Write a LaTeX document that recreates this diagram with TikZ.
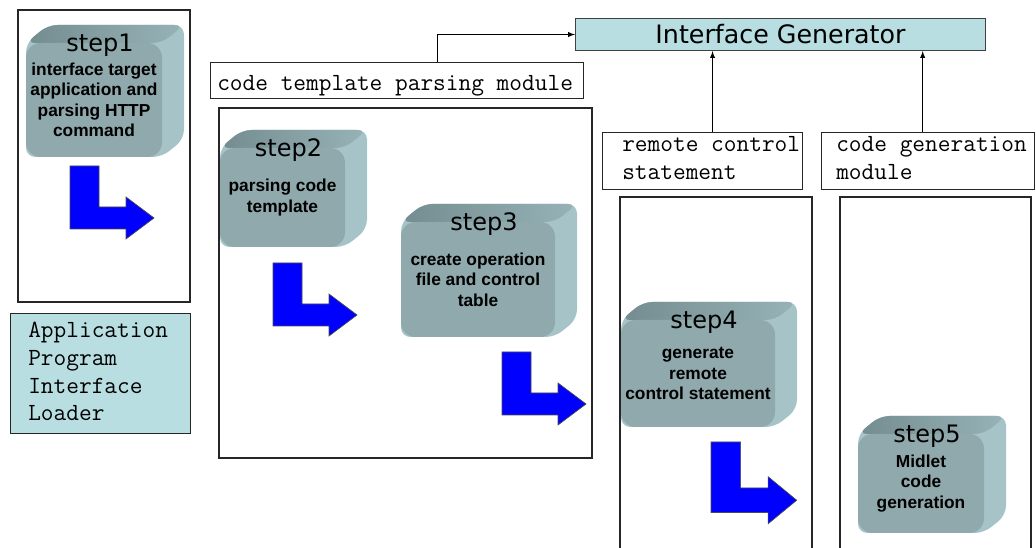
\documentclass[tikz,border=0pt]{standalone}
\usepackage{fontspec}
\newfontfamily\arialfont{Liberation Sans}
\newfontfamily\verdfont{DejaVu Sans}

\definecolor{cubefront}{HTML}{8FA9AD}
\definecolor{cubetop}{HTML}{748C90}
\definecolor{cubeside}{HTML}{A6C4C8}
\definecolor{panelcyan}{HTML}{B8DEE1}

\tikzset{
  frame/.style={draw=black!85, line width=0.8pt},
  modbox/.style={draw=black!85, line width=0.8pt, inner sep=0pt},
  modtext/.style={font=\ttfamily\fontsize{18.5}{21}\selectfont, inner sep=0pt, align=left},
  genbox/.style={draw=black!75, line width=0.8pt, fill=panelcyan,
    font=\verdfont\fontsize{19}{22}\selectfont, inner sep=0pt},
  steptitle/.style={font=\verdfont\fontsize{18}{20}\selectfont, inner sep=0pt},
  stepbody/.style={font=\arialfont\bfseries\fontsize{13}{15.4}\selectfont,
    align=center, inner sep=0pt},
  bluearrow/.style={fill=blue, draw=black!70, line width=0.5pt},
  flow/.style={->, >=latex, line width=0.8pt},
}

\def\cdx{22}
\def\cdy{18}
% #1,#2 top left, #3,#4 bottom right, #5 name, #6 title, #7 text
\newcommand\stepcube[7]{%
  \fill[cubeside, rounded corners=7pt] (#1,{#2+\cdy}) -- ({#1+\cdx},#2) -- (#3,#2) -- (#3,{#4-\cdy})
    -- ({#3-\cdx},#4) -- (#1,#4) -- cycle;
  \shade[left color=cubetop, right color=cubeside!70!cubetop, rounded corners=7pt]
    (#1,{#2+\cdy}) -- ({#1+\cdx},#2) -- (#3,#2) -- ({#3-\cdx},{#2+\cdy}) -- cycle;
  \fill[cubefront, rounded corners=11pt] (#1,{#2+\cdy}) rectangle ({#3-\cdx},#4);
  \node[stepbody] (#5) at ({(#1+#3-\cdx)/2},{(#2+\cdy+#4)/2}) {#7};
  \node[steptitle] (#5t) at ({(#1+#3-\cdx)/2+6},{#2+\cdy+2}) {#6};
}
% bent blue arrow, #2,#3 top left corner
\newcommand\bendarrow[3][]{%
  \draw[bluearrow, shift={(#2,#3)}, #1] (0,0) -- (29,0) -- (29,41) -- (56,41) -- (56,31)
    -- (84,52) -- (56,73) -- (56,63) -- (0,63) -- cycle;
}

\begin{document}
\begin{tikzpicture}[x=0.75pt, y=-0.75pt]
  \useasboundingbox (0,0) rectangle (1036,548);
  %
  \draw[frame] (18,10) rectangle (190,302);      % step1 frame
  \draw[frame] (219,108) rectangle (592,458);    % step2/3 frame
  \draw[frame] (620,552) -- (620,197) -- (812,197) -- (812,552);
  \draw[frame] (840,552) -- (840,197) -- (1031,197) -- (1031,552);
  %
  \node[genbox, minimum width=307.5pt, minimum height=24pt, anchor=north west] (gen) at (575,18) {Interface Generator};
  \node[modbox, minimum width=279.75pt, minimum height=27pt, anchor=north west] (tpl) at (210,62) {};
  \node[modtext, anchor=base west] (tpltext) at (217,91) {code template parsing module};
  \node[modbox, minimum width=150pt, minimum height=42.75pt, anchor=north west] (rcs) at (602,132) {};
  \node[modtext, anchor=base west] (rcstext) at (622,180) {remote control\\statement};
  \node[modbox, minimum width=159.75pt, minimum height=42.75pt, anchor=north west] (cgm) at (821,132) {};
  \node[modtext, anchor=base west] (cgmtext) at (836,180) {code generation\\module};
  \node[modbox, fill=panelcyan, minimum width=135pt, minimum height=90pt, anchor=north west] (api) at (10,313) {};
  \node[modtext, font=\ttfamily\fontsize{18.5}{20.75}\selectfont, anchor=base west] (apitext) at (28,421)
    {Application\\Program\\Interface\\Loader};
  %
  \coordinate (tplup) at ([xshift=30.4pt]tpl.north);
  \coordinate (rcsup) at ([xshift=7.5pt]rcs.north);
  \coordinate (cgmup) at ([xshift=-4pt]cgm.north);
  \draw[flow] (tplup) |- (gen.west);
  \draw[flow] (rcsup) -- (rcsup |- gen.south);
  \draw[flow] (cgmup) -- (cgmup |- gen.south);
  %
  \stepcube{26}{25}{184}{157}{s1}{step1}{interface target\\application and\\parsing HTTP\\command}
  \stepcube{220}{130}{367}{247}{s2}{step2}{parsing code\\template}
  \stepcube{401}{204}{577}{337}{s3}{step3}{create operation\\file and control\\table}
  \stepcube{621}{302}{797}{427}{s4}{step4}{generate\\remote\\control statement}
  \stepcube{858}{416}{1006}{533}{s5}{step5}{Midlet\\code\\generation}
  %
  \bendarrow{70}{166}
  \bendarrow{273}{263}
  \bendarrow{502}{352}
  \bendarrow[xscale=1.02, yscale=1.12]{711}{442}
  %
\end{tikzpicture}
\end{document}
